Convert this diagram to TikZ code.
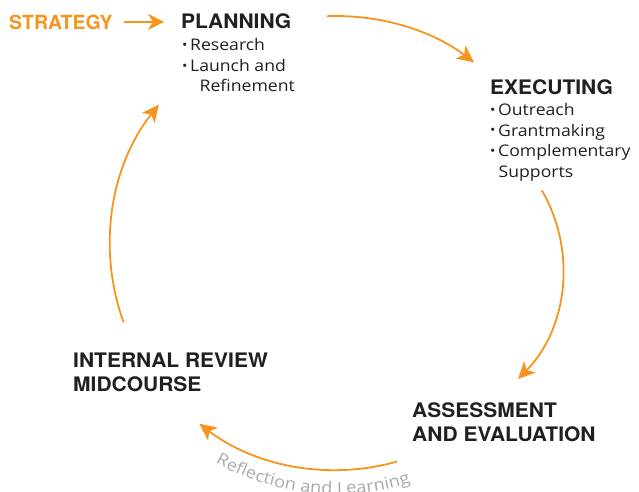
\documentclass[tikz,border=0pt]{standalone}
\usepackage{fontspec}
\setmainfont{Open Sans}[FakeStretch=1.1]
\newfontfamily\headfont{TeX Gyre Heros}[FakeStretch=1.05]
\newfontfamily\stratfont{TeX Gyre Heros}
\usetikzlibrary{arrows.meta,calc,decorations.text}

\definecolor{cycorange}{HTML}{F7941D}
\definecolor{inktext}{HTML}{231F20}
\definecolor{notegray}{HTML}{A7A9AC}

% small raised bullet followed by a fixed gap
\newcommand\itembul{\makebox[8pt][l]{\raisebox{1.2pt}{\fontsize{13}{13}\selectfont •}}}

\begin{document}
\begin{tikzpicture}[x=1pt, y=-1pt,
  head/.style={inner sep=0pt, anchor=base west, text=inktext,
    font=\headfont\bfseries\fontsize{20}{24}\selectfont},
  item/.style={inner sep=0pt, anchor=base west, text=inktext,
    font=\fontsize{16}{20}\selectfont},
  cyclearrow/.style={draw=cycorange, line width=1.8pt,
    -{Stealth[length=17pt, width=16pt, inset=4.5pt]}},
  stratarrow/.style={draw=cycorange, line width=1.5pt,
    -{Stealth[length=16pt, width=16pt, inset=5pt]}}]

\useasboundingbox (0,0) rectangle (639,491);

% stage labels
\node[inner sep=0pt, anchor=base west, text=cycorange,
  font=\stratfont\bfseries\fontsize{19.5}{24}\selectfont] (strategy) at (9,29) {STRATEGY};

\node[head] (planning) at (181,28.5) {PLANNING};
\node[item] (plan1) at (182,50.7) {\itembul Research};
\node[item] (plan2) at (182,71.5) {\itembul Launch and};
\node[item] (plan3) at (199.5,91) {Refinement};

\node[head] (executing) at (490,94) {EXECUTING};
\node[item] (exec1) at (490,115.5) {\itembul Outreach};
\node[item] (exec2) at (490,136) {\itembul Grantmaking};
\node[item] (exec3) at (490,156.5) {\itembul Complementary};
\node[item] (exec4) at (498.5,177.5) {Supports};

\node[head] (assess1) at (412,417.3) {ASSESSMENT};
\node[head] (assess2) at (412,441.3) {AND EVALUATION};

\node[head] (review1) at (73,367.3) {INTERNAL REVIEW};
\node[head] (review2) at (73,391) {MIDCOURSE};

% strategy feeds planning
\draw[stratarrow, shorten <=11pt, shorten >=17pt]
  (strategy.east) -- (strategy.east -| planning.west);

% centres of the cycle arcs
\coordinate (c) at (336,245);
\coordinate (c2) at (406,269);

% arc start points
\coordinate (planToExec) at ($(c)+(-92.2:229)$);
\coordinate (execToAssess) at ($(c2)+(-30.1:157)$);
\coordinate (assessToReview) at ($(c)+(74.2:225)$);
\coordinate (reviewToPlan) at ($(c)+(160:226)$);
\coordinate (reflStart) at ($(c)+(119:249)$);

% the cycle
\draw[cyclearrow] (planToExec) arc[start angle=-92.2, end angle=-52.9, radius=229];
\draw[cyclearrow] (execToAssess) arc[start angle=-30.1, end angle=44.5, radius=157];
\draw[cyclearrow] (assessToReview) arc[start angle=74.2, end angle=127.4, radius=225];
\draw[cyclearrow] (reviewToPlan) arc[start angle=160, end angle=218.4, radius=226];

% curved caption under the return arc
\path[decorate, decoration={text along path,
    text={|\fontsize{16.5}{16.5}\selectfont|Reflection and Learning},
    text color=notegray, text align=fit to path}]
  (reflStart) arc[start angle=119, end angle=72.6, radius=249];

\end{tikzpicture}
\end{document}
